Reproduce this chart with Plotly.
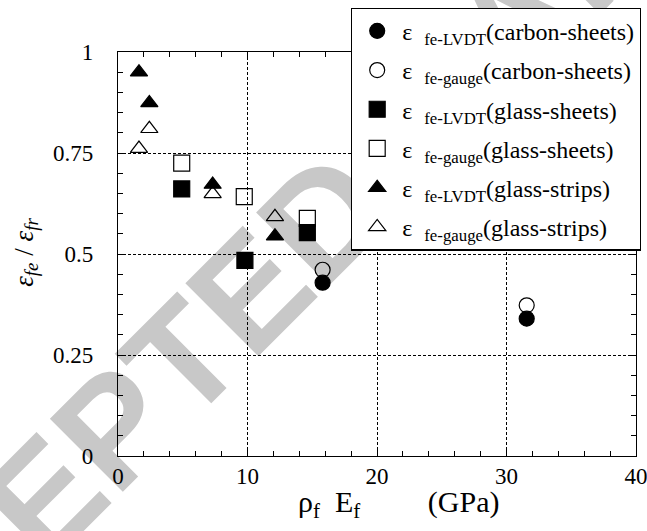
import plotly.graph_objects as go

# ---- data ----
carbon_lvdt_x = [15.8, 31.56]
carbon_lvdt_y = [0.429, 0.340]
carbon_gauge_x = [15.8, 31.56]
carbon_gauge_y = [0.461, 0.373]

gsheet_lvdt_x = [4.92, 9.8, 14.62]
gsheet_lvdt_y = [0.661, 0.484, 0.553]
gsheet_gauge_x = [4.92, 9.75, 14.62]
gsheet_gauge_y = [0.725, 0.642, 0.588]

gstrip_lvdt_x = [1.62, 2.42, 7.31, 12.12]
gstrip_lvdt_y = [0.950, 0.874, 0.672, 0.544]
gstrip_gauge_x = [2.42, 1.62, 7.31, 12.12]
gstrip_gauge_y = [0.810, 0.761, 0.649, 0.592]

series_names = [
    "ε\u00a0 <sub>fe-LVDT</sub>(carbon-sheets)",
    "ε\u00a0 <sub>fe-gauge</sub>(carbon-sheets)",
    "ε\u00a0 <sub>fe-LVDT</sub>(glass-sheets)",
    "ε\u00a0 <sub>fe-gauge</sub>(glass-sheets)",
    "ε\u00a0 <sub>fe-LVDT</sub>(glass-strips)",
    "ε\u00a0 <sub>fe-gauge</sub>(glass-strips)",
]
x_ticks = [0, 10, 20, 30, 40]
y_ticks = [0, 0.25, 0.5, 0.75, 1]

SERIF = "Liberation Serif"

series = [
    (carbon_lvdt_x, carbon_lvdt_y, "circle", 15),
    (carbon_gauge_x, carbon_gauge_y, "circle-open", 15),
    (gsheet_lvdt_x, gsheet_lvdt_y, "square", 16),
    (gsheet_gauge_x, gsheet_gauge_y, "square-open", 16),
    (gstrip_lvdt_x, gstrip_lvdt_y, "triangle-up", 15),
    (gstrip_gauge_x, gstrip_gauge_y, "triangle-up-open", 15),
]

fig = go.Figure()
for i, ((xs, ys, sym, sz), name) in enumerate(zip(series, series_names)):
    fig.add_trace(go.Scatter(
        x=xs, y=ys, mode="markers", name=name, legendgroup=f"g{i}",
        marker=dict(symbol=sym, size=sz, color="black",
                    line=dict(color="black", width=1.2)),
    ))

axis_common = dict(
    showline=True, linecolor="black", linewidth=1.2, mirror="allticks",
    ticks="inside", ticklen=8, tickcolor="black", tickwidth=1,
    showgrid=True, gridcolor="black", griddash="3px,2px", gridwidth=1,
    zeroline=False, ticklabeloverflow="allow", automargin=False,
    tickfont=dict(family=SERIF, size=23, color="black"),
)

fig.update_xaxes(
    range=[0, 40], tickvals=x_ticks, ticktext=[str(v) for v in x_ticks],
    minor=dict(dtick=2, ticks="inside", ticklen=5, tickcolor="black", showgrid=False),
    ticklabelstandoff=-1,
    **axis_common,
)
fig.update_yaxes(
    range=[0, 1], tickvals=y_ticks, ticktext=["0", "0.25", "0.5", "0.75", "1"],
    minor=dict(dtick=0.05, ticks="inside", ticklen=5, tickcolor="black", showgrid=False),
    ticklabelstandoff=19,
    **axis_common,
)

# watermark (light grey text, behind the grid)
fig.add_shape(
    type="line", xref="paper", yref="paper",
    x0=-0.061, y0=-0.255, x1=1.489, y1=1.745,
    line=dict(width=0, color="rgba(0,0,0,0)"), layer="below",
    label=dict(text="ACCEPTED MANUSCRIPT", textangle=-45, textposition="middle",
               font=dict(family="Liberation Sans", size=150,
                         color="rgb(200,200,200)", weight="bold")),
)

# axis titles
fig.add_annotation(
    xref="paper", yref="paper", x=0.542, y=-0.12, xanchor="center", yanchor="middle",
    showarrow=False,
    text="ρ<sub>f</sub>\u00a0 E<sub>f</sub>\u00a0\u00a0\u00a0\u00a0\u00a0\u00a0\u00a0\u00a0 (GPa)",
    font=dict(family=SERIF, size=30, color="black"),
)
fig.add_annotation(
    xref="paper", yref="paper", x=-0.178, y=0.505, xanchor="center", yanchor="middle",
    showarrow=False, textangle=-90,
    text="<i>ε<sub>fe</sub></i> / <i>ε<sub>fr</sub></i>",
    font=dict(family=SERIF, size=27, color="black"),
)

fig.update_layout(
    width=647, height=531,
    margin=dict(l=118, r=11, t=52, b=75, autoexpand=False),
    paper_bgcolor="white", plot_bgcolor="white",
    showlegend=True,
    legend=dict(
        x=0.4498, y=1.11, xanchor="left", yanchor="top",
        bgcolor="white", bordercolor="black", borderwidth=1.2,
        font=dict(family=SERIF, size=24, color="black"),
        tracegroupgap=5, itemsizing="trace", itemwidth=40,
    ),
)

# remove the browser's default 8px page margin so the figure fills the window
fig.write_html(
    "out.html",
    config={"displayModeBar": False},
    post_script="document.body.style.margin='0';document.body.style.overflow='hidden';",
)
